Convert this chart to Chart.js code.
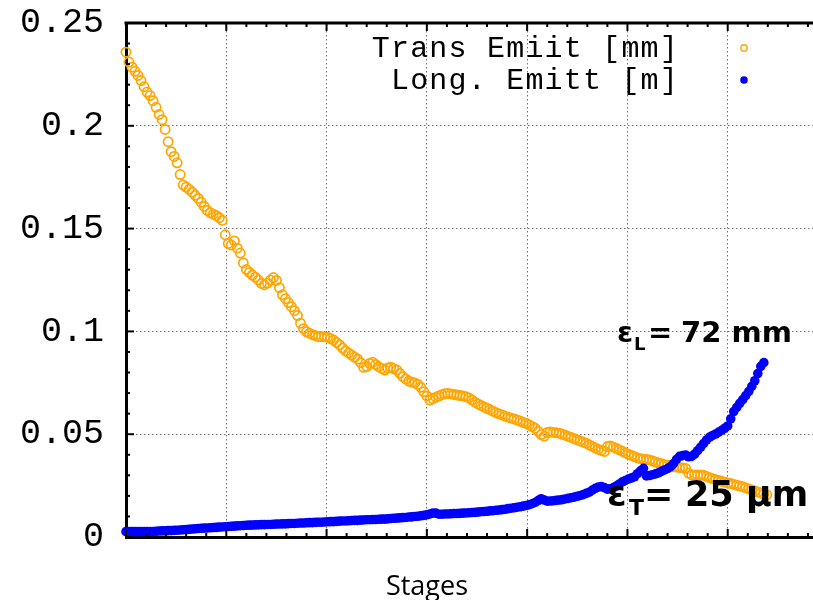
<!DOCTYPE html>
<html>
<head>
<meta charset="utf-8">
<script src="https://cdn.jsdelivr.net/npm/chart.js@4.4.1/dist/chart.umd.min.js"></script>
<style>
  html, body { margin: 0; padding: 0; background: #fff; overflow: hidden; }
  #wrap { width: 840px; height: 600px; }
</style>
</head>
<body>
<div id="wrap"><canvas id="emitChart" width="840" height="600"></canvas></div>
<script>
// stage step between samples
const STAGE_STEP = 3;

// transverse emittance [mm], one sample every 3 stages from stage 0
const transEmit = [
  0.2358, 0.2310, 0.2285, 0.2265, 0.2245, 0.2220, 0.2190, 0.2164, 0.2147, 0.2122,
  0.2090, 0.2055, 0.2030, 0.1982, 0.1923, 0.1874, 0.1851, 0.1820, 0.1763, 0.1712,
  0.1702, 0.1691, 0.1677, 0.1662, 0.1647, 0.1628, 0.1608, 0.1588, 0.1577, 0.1570,
  0.1563, 0.1553, 0.1540, 0.1470, 0.1428, 0.1420, 0.1440, 0.1405, 0.1381, 0.1333,
  0.1301, 0.1287, 0.1274, 0.1264, 0.1250, 0.1233, 0.1227, 0.1235, 0.1250, 0.1262,
  0.1248, 0.1212, 0.1178, 0.1159, 0.1140, 0.1120, 0.1101, 0.1077, 0.1040, 0.1013,
  0.0998, 0.0991, 0.0984, 0.0979, 0.0975, 0.0974, 0.0974, 0.0972, 0.0965, 0.0958,
  0.0946, 0.0934, 0.0919, 0.0905, 0.0895, 0.0885, 0.0875, 0.0865, 0.0848, 0.0825,
  0.0829, 0.0844, 0.0850, 0.0839, 0.0828, 0.0820, 0.0812, 0.0822, 0.0826, 0.0819,
  0.0812, 0.0796, 0.0780, 0.0769, 0.0758, 0.0753, 0.0749, 0.0742, 0.0728, 0.0706,
  0.0686, 0.0666, 0.0673, 0.0680, 0.0686, 0.0692, 0.0697, 0.0698, 0.0696, 0.0693,
  0.0691, 0.0688, 0.0686, 0.0683, 0.0676, 0.0666, 0.0656, 0.0647, 0.0640, 0.0633,
  0.0626, 0.0619, 0.0612, 0.0605, 0.0599, 0.0594, 0.0588, 0.0583, 0.0578, 0.0574,
  0.0569, 0.0564, 0.0558, 0.0553, 0.0545, 0.0537, 0.0529, 0.0514, 0.0498, 0.0490,
  0.0508, 0.0511, 0.0509, 0.0507, 0.0505, 0.0500, 0.0495, 0.0489, 0.0484, 0.0478,
  0.0472, 0.0467, 0.0461, 0.0456, 0.0448, 0.0441, 0.0433, 0.0426, 0.0421, 0.0416,
  0.0440, 0.0443, 0.0437, 0.0431, 0.0424, 0.0417, 0.0409, 0.0403, 0.0397, 0.0391,
  0.0385, 0.0381, 0.0379, 0.0377, 0.0375, 0.0370, 0.0365, 0.0360, 0.0356, 0.0352,
  0.0349, 0.0345, 0.0342, 0.0340, 0.0338, 0.0336, 0.0334, 0.0310, 0.0302, 0.0302,
  0.0302, 0.0302, 0.0300, 0.0295, 0.0289, 0.0284, 0.0279, 0.0275, 0.0271, 0.0267,
  0.0263, 0.0260, 0.0256, 0.0252, 0.0248, 0.0245, 0.0239, 0.0234, 0.0229, 0.0224,
  0.0219, 0.0214, 0.0209, 0.0205
];

// longitudinal emittance [m], same stage sampling
const longEmit = [
  0.0026, 0.0026, 0.0026, 0.0026, 0.0026, 0.0026, 0.0026, 0.0026, 0.0027, 0.0027,
  0.0028, 0.0029, 0.0030, 0.0030, 0.0031, 0.0031, 0.0032, 0.0033, 0.0034, 0.0035,
  0.0036, 0.0037, 0.0039, 0.0040, 0.0041, 0.0042, 0.0043, 0.0044, 0.0045, 0.0046,
  0.0047, 0.0048, 0.0049, 0.0050, 0.0051, 0.0052, 0.0053, 0.0054, 0.0055, 0.0056,
  0.0057, 0.0058, 0.0058, 0.0059, 0.0059, 0.0060, 0.0060, 0.0061, 0.0061, 0.0062,
  0.0063, 0.0063, 0.0064, 0.0064, 0.0065, 0.0066, 0.0066, 0.0067, 0.0068, 0.0068,
  0.0069, 0.0070, 0.0070, 0.0071, 0.0072, 0.0072, 0.0073, 0.0074, 0.0075, 0.0075,
  0.0076, 0.0077, 0.0078, 0.0078, 0.0079, 0.0080, 0.0081, 0.0081, 0.0082, 0.0083,
  0.0084, 0.0084, 0.0085, 0.0085, 0.0086, 0.0087, 0.0087, 0.0088, 0.0090, 0.0091,
  0.0092, 0.0093, 0.0094, 0.0095, 0.0097, 0.0098, 0.0100, 0.0101, 0.0103, 0.0105,
  0.0108, 0.0112, 0.0116, 0.0116, 0.0111, 0.0111, 0.0112, 0.0112, 0.0113, 0.0114,
  0.0114, 0.0115, 0.0116, 0.0117, 0.0118, 0.0119, 0.0120, 0.0121, 0.0123, 0.0124,
  0.0125, 0.0127, 0.0128, 0.0130, 0.0131, 0.0133, 0.0135, 0.0138, 0.0140, 0.0142,
  0.0145, 0.0147, 0.0150, 0.0153, 0.0157, 0.0162, 0.0168, 0.0177, 0.0186, 0.0180,
  0.0174, 0.0175, 0.0176, 0.0178, 0.0180, 0.0182, 0.0185, 0.0188, 0.0191, 0.0194,
  0.0198, 0.0202, 0.0206, 0.0212, 0.0218, 0.0228, 0.0237, 0.0243, 0.0245, 0.0240,
  0.0233, 0.0234, 0.0240, 0.0248, 0.0258, 0.0268, 0.0275, 0.0282, 0.0287, 0.0293,
  0.0308, 0.0322, 0.0334, 0.0297, 0.0299, 0.0303, 0.0307, 0.0312, 0.0319, 0.0326,
  0.0333, 0.0342, 0.0357, 0.0378, 0.0392, 0.0396, 0.0399, 0.0390, 0.0392, 0.0403,
  0.0420, 0.0437, 0.0455, 0.0472, 0.0486, 0.0494, 0.0501, 0.0510, 0.0519, 0.0529,
  0.0540, 0.0575, 0.0610, 0.0630, 0.0650, 0.0668, 0.0688, 0.0708, 0.0733, 0.0760,
  0.0795, 0.0830, 0.0848
];

const yTicks = [0, 0.05, 0.1, 0.15, 0.2, 0.25];
const seriesNames = ['Trans Emiit [mm]', 'Long. Emitt [m]'];

const ORANGE = '#ffa500';
const BLUE = '#0000ff';

function toPoints(values) {
  return values.map((v, i) => ({ x: i * STAGE_STEP, y: v }));
}

// ticks pointing into the plot, frame top line, legend and notes
const framePlugin = {
  id: 'frame',
  afterDraw(chart) {
    const { ctx, chartArea: a, scales: { x, y } } = chart;
    const seg = (x1, y1, x2, y2) => {
      ctx.beginPath(); ctx.moveTo(x1, y1); ctx.lineTo(x2, y2); ctx.stroke();
    };
    ctx.save();
    ctx.strokeStyle = '#000';
    ctx.lineWidth = 3;
    seg(a.left - 1.5, a.top, chart.width, a.top);

    ctx.lineWidth = 2;
    for (let s = 0; s <= 700; s += 20) {
      const px = x.getPixelForValue(s);
      const len = s % 100 === 0 ? 8 : 4;
      seg(px, a.bottom, px, a.bottom - len);
      seg(px, a.top, px, a.top + len);
    }
    for (let k = 0; k <= 25; k++) {
      const py = y.getPixelForValue(k / 100);
      const len = k % 5 === 0 ? 8 : 4;
      seg(a.left, py, a.left + len, py);
    }

    // legend: text right aligned, marker on the right
    ctx.fillStyle = '#000';
    ctx.font = '30px "Liberation Mono"';
    ctx.letterSpacing = '1.2px';
    ctx.textAlign = 'right';
    ctx.textBaseline = 'middle';
    ctx.fillText(seriesNames[0], 679, 49);
    ctx.fillText(seriesNames[1], 679, 81);
    ctx.letterSpacing = '0px';

    ctx.strokeStyle = ORANGE;
    ctx.lineWidth = 1.4;
    ctx.beginPath(); ctx.arc(744, 48, 3.2, 0, Math.PI * 2); ctx.stroke();
    ctx.fillStyle = BLUE;
    ctx.beginPath(); ctx.arc(744, 80, 3.8, 0, Math.PI * 2); ctx.fill();

    // emittance notes
    ctx.fillStyle = '#000';
    ctx.textAlign = 'left';
    ctx.textBaseline = 'alphabetic';
    ctx.font = 'bold 29px "DejaVu Sans"';
    ctx.fillText('ε', 617, 342);
    ctx.font = 'bold 18px "DejaVu Sans"';
    ctx.fillText('L', 634, 350);
    ctx.font = 'bold 29px "DejaVu Sans"';
    ctx.fillText('=', 648, 342);
    ctx.fillText('72 mm', 681, 342);

    ctx.font = 'bold 35px "DejaVu Sans"';
    ctx.fillText('ε', 607, 506);
    ctx.font = 'bold 22px "DejaVu Sans"';
    ctx.fillText('T', 629, 515);
    ctx.font = 'bold 35px "DejaVu Sans"';
    ctx.fillText('=', 644, 506);
    ctx.fillText('25 µm', 685, 506);

    // axis title
    ctx.font = '27px "Open Sans"';
    ctx.textAlign = 'center';
    ctx.fillText('Stages', 427, 595);
    ctx.restore();
  }
};

new Chart(document.getElementById('emitChart'), {
  type: 'scatter',
  data: {
    datasets: [
      {
        label: seriesNames[0],
        data: toPoints(transEmit),
        pointStyle: 'circle',
        pointRadius: 4.6,
        pointBorderWidth: 1.7,
        pointBorderColor: ORANGE,
        pointBackgroundColor: 'rgba(0,0,0,0)',
        showLine: false,
        clip: false,
        order: 2
      },
      {
        label: seriesNames[1],
        data: toPoints(longEmit),
        pointStyle: 'circle',
        pointRadius: 4.8,
        pointBorderWidth: 0,
        pointBackgroundColor: BLUE,
        showLine: false,
        clip: false,
        order: 1
      }
    ]
  },
  options: {
    responsive: false,
    animation: false,
    events: [],
    layout: { padding: { left: 0, top: 23, right: 12, bottom: 0 } },
    plugins: { legend: { display: false }, tooltip: { enabled: false } },
    scales: {
      x: {
        type: 'linear',
        min: 0,
        max: 700,
        ticks: { display: false, stepSize: 100 },
        grid: { color: '#707070', lineWidth: 1, drawTicks: false },
        border: { display: true, color: '#000', width: 3, dash: [1.5, 2.5] },
        afterFit(scale) {
          scale.height = 63;
          scale.paddingLeft = 0;
          scale.paddingRight = 0;
        }
      },
      y: {
        min: 0,
        max: 0.25,
        afterBuildTicks(scale) { scale.ticks = yTicks.map(v => ({ value: v })); },
        ticks: {
          padding: 22,
          color: '#000',
          font: { family: '"Liberation Mono"', size: 35 },
          callback: v => String(v)
        },
        grid: { color: '#707070', lineWidth: 1, drawTicks: false },
        border: { display: true, color: '#000', width: 3, dash: [1.5, 2.5] },
        afterFit(scale) {
          scale.width = 126;
          scale.paddingTop = 0;
          scale.paddingBottom = 0;
        }
      }
    }
  },
  plugins: [framePlugin]
});
</script>
</body>
</html>
